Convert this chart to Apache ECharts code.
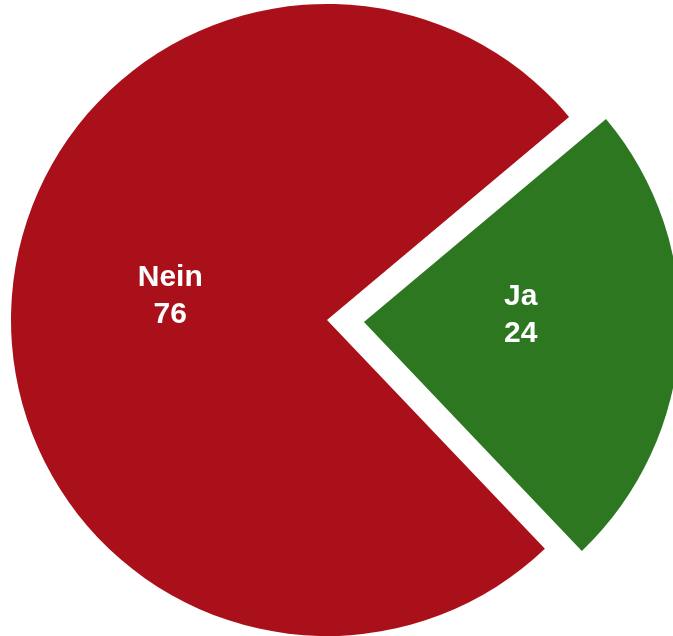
<!DOCTYPE html>
<html>
<head>
<meta charset="utf-8">
<script src="https://cdn.jsdelivr.net/npm/echarts@6/dist/echarts.min.js"></script>
<style>
  html, body { margin: 0; padding: 0; background: #fff; }
  #main { width: 673px; height: 636px; }
</style>
</head>
<body>
<div id="main"></div>
<script>
// Daten
var categories = ['Ja', 'Nein'];
var values = [24, 76];
var colors = ['#2C7720', '#AA1019'];
var labelOffsets = [[-4, -16], [4, -15]];

var myChart = echarts.init(document.getElementById('main'));

var data = [];
for (let i = 0; i < categories.length; i++) {
  data.push({
    name: categories[i],
    value: values[i],
    selected: categories[i] == 'Ja',
    itemStyle: { color: colors[i] },
    label: { offset: labelOffsets[i] },
    select: {
      itemStyle: { color: colors[i] },
      label: { offset: labelOffsets[i], color: '#fff' }
    }
  });
}

var option = {
  animation: false,
  series: [{
    type: 'pie',
    center: [327, 320],
    radius: 316,
    startAngle: 40,
    clockwise: true,
    selectedMode: 'single',
    selectedOffset: 37,
    label: {
      show: true,
      position: 'inner',
      formatter: '{b}\n{c}',
      color: '#fff',
      fontFamily: 'Liberation Sans, Arial, sans-serif',
      fontWeight: 'bold',
      fontSize: 30,
      lineHeight: 37
    },
    labelLine: { show: false },
    emphasis: { disabled: true },
    data: data
  }]
};
myChart.setOption(option);
</script>
</body>
</html>
